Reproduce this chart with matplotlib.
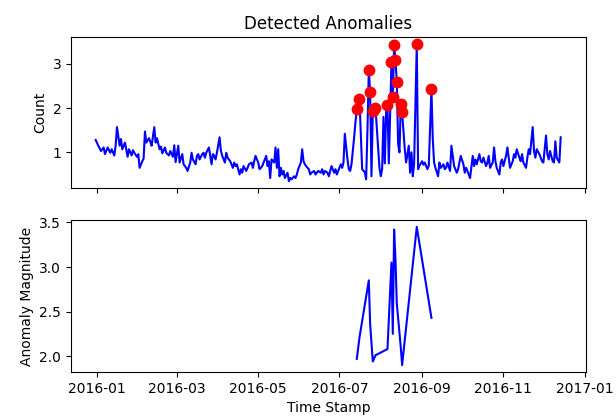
import numpy as np
import matplotlib
matplotlib.use("Agg")
import matplotlib.pyplot as plt

start_date = "2016-01-01"

# daily count series (day offset from start_date, value)
day_offsets = [
    -1, 1, 3, 5, 6, 8, 10, 11, 13, 14, 15, 17, 18, 19, 21, 23, 24, 26, 27, 28,
    30, 31, 32, 34, 35, 36, 37, 39, 40, 41, 43, 44, 45, 47, 48, 49, 51, 52, 54, 55,
    57, 58, 59, 61, 62, 64, 65, 67, 68, 70, 71, 72, 74, 75, 76, 77, 79, 80, 81, 82,
    84, 86, 87, 88, 89, 90, 92, 93, 94, 96, 97, 98, 99, 100, 102, 103, 104, 105, 107, 108,
    109, 110, 112, 113, 114, 116, 117, 118, 119, 121, 122, 123, 124, 126, 127, 128, 129, 130, 131, 133,
    134, 135, 136, 137, 138, 139, 140, 141, 143, 144, 145, 146, 148, 149, 150, 151, 153, 154, 155, 156,
    158, 159, 160, 161, 163, 164, 165, 166, 168, 169, 170, 171, 173, 174, 175, 176, 178, 179, 180, 181,
    183, 184, 185, 186, 188, 189, 190, 191, 193, 194, 195, 197, 199, 201, 202, 203, 204, 205, 206, 207,
    209, 212, 213, 214, 215, 216, 217, 218, 219, 220, 221, 222, 223, 224, 225, 226, 227, 228, 229, 231,
    232, 234, 235, 236, 237, 238, 240, 241, 242, 244, 245, 246, 248, 249, 251, 252, 253, 254, 256, 257,
    258, 260, 261, 262, 263, 265, 266, 267, 268, 270, 271, 272, 273, 275, 276, 277, 278, 280, 282, 283,
    284, 285, 287, 288, 289, 290, 292, 293, 294, 295, 297, 298, 299, 300, 302, 303, 304, 305, 307, 308,
    309, 310, 312, 313, 314, 315, 317, 318, 319, 320, 322, 323, 324, 325, 327, 328, 329, 330, 332, 333,
    334, 335, 337, 338, 339, 340, 342, 343, 344, 345, 347, 348,
]
counts = [
    1.28, 1.15, 1.03, 1.11, 0.96, 1.11, 0.99, 1.07, 0.93, 1.15, 1.57, 1.15, 1.30, 1.07, 1.22, 0.90, 1.07, 0.93, 1.05, 0.99,
    0.90, 0.96, 0.65, 0.80, 0.86, 1.47, 1.22, 1.32, 1.24, 1.15, 1.57, 1.22, 1.32, 1.07, 1.13, 0.98, 1.11, 0.99, 0.93, 1.03,
    0.90, 1.16, 0.78, 1.15, 0.77, 0.96, 0.73, 0.65, 0.58, 0.77, 0.99, 0.84, 0.73, 0.92, 0.96, 0.84, 0.96, 0.99, 0.88, 0.99,
    1.11, 0.73, 0.96, 0.92, 0.84, 0.99, 1.34, 1.03, 0.92, 0.77, 0.99, 0.88, 0.84, 0.80, 0.65, 0.77, 0.69, 0.73, 0.50, 0.62,
    0.54, 0.69, 0.58, 0.65, 0.73, 0.77, 0.65, 0.80, 0.92, 0.77, 0.62, 0.65, 0.69, 0.84, 0.92, 0.69, 0.80, 0.42, 0.84, 0.77,
    1.11, 0.65, 1.07, 0.46, 0.65, 0.50, 0.58, 0.42, 0.54, 0.35, 0.42, 0.39, 0.46, 0.42, 0.50, 0.62, 0.77, 1.07, 0.80, 0.73,
    0.65, 0.62, 0.50, 0.54, 0.58, 0.50, 0.54, 0.58, 0.54, 0.62, 0.50, 0.58, 0.54, 0.46, 0.58, 0.69, 0.54, 0.62, 0.50, 0.58,
    0.73, 0.65, 0.77, 1.42, 0.84, 0.62, 0.58, 0.73, 1.34, 1.69, 1.97, 2.21, 0.62, 0.55, 0.39, 1.53, 2.85, 2.36, 0.46, 1.94,
    2.01, 0.65, 0.46, 0.62, 1.80, 0.75, 1.90, 2.08, 0.75, 1.85, 3.05, 2.25, 3.42, 3.09, 2.59, 1.20, 1.00, 2.10, 1.90, 1.07,
    0.77, 1.15, 0.54, 1.00, 0.46, 0.75, 3.45, 0.62, 0.70, 0.80, 0.72, 0.77, 0.62, 0.70, 2.43, 1.30, 0.77, 0.65, 0.46, 0.77,
    0.65, 0.73, 0.62, 0.65, 0.77, 0.58, 1.15, 0.92, 0.69, 0.54, 0.62, 0.77, 0.92, 0.73, 0.54, 0.65, 0.58, 0.42, 0.92, 0.69,
    0.84, 0.73, 0.96, 0.80, 0.77, 0.88, 0.69, 0.77, 0.92, 0.65, 0.77, 1.11, 0.80, 0.65, 0.50, 0.77, 0.84, 0.69, 0.92, 1.11,
    0.88, 0.65, 0.80, 0.96, 0.88, 1.07, 0.88, 0.80, 0.96, 0.77, 0.65, 0.88, 1.07, 0.96, 1.57, 1.03, 0.88, 1.07, 0.96, 0.88,
    0.80, 0.77, 1.38, 0.96, 0.84, 1.03, 0.80, 0.77, 1.25, 0.88, 0.77, 1.34,
]

# detected anomalies
anom_days = [195, 197, 204, 205, 207, 209, 218, 221, 222, 223, 224, 225, 228, 229, 240, 251]
anom_values = [1.97, 2.21, 2.85, 2.36, 1.94, 2.01, 2.08, 3.05, 2.25, 3.42, 3.09, 2.59, 2.10, 1.90, 3.45, 2.43]

base = np.datetime64(start_date)
dates = base + np.array(day_offsets).astype("timedelta64[D]")
anom_dates = base + np.array(anom_days).astype("timedelta64[D]")

W, H = 616, 417
fig = plt.figure(figsize=(W / 100, H / 100), dpi=100)
ax1 = fig.add_axes([71 / W, 1 - 188 / H, 515 / W, 151 / H])
ax2 = fig.add_axes([71 / W, 1 - 372 / H, 515 / W, 152 / H], sharex=ax1)

ax1.plot(dates, counts, color="b", linewidth=1.5)
ax1.plot(anom_dates, anom_values, "o", color="r", markersize=7.5, linestyle="none")
ax1.set_title("Detected Anomalies")
ax1.set_ylabel("Count")
ax1.tick_params(labelbottom=False)

ax2.plot(anom_dates, anom_values, color="b", linewidth=1.5)
ax2.set_ylabel("Anomaly Magnitude")
ax2.set_xlabel("Time Stamp")

ax1.set_xlim(base - np.timedelta64(19, "D") - np.timedelta64(12, "h"),
             base + np.timedelta64(367, "D"))

fig.savefig("out.png", dpi=100)
